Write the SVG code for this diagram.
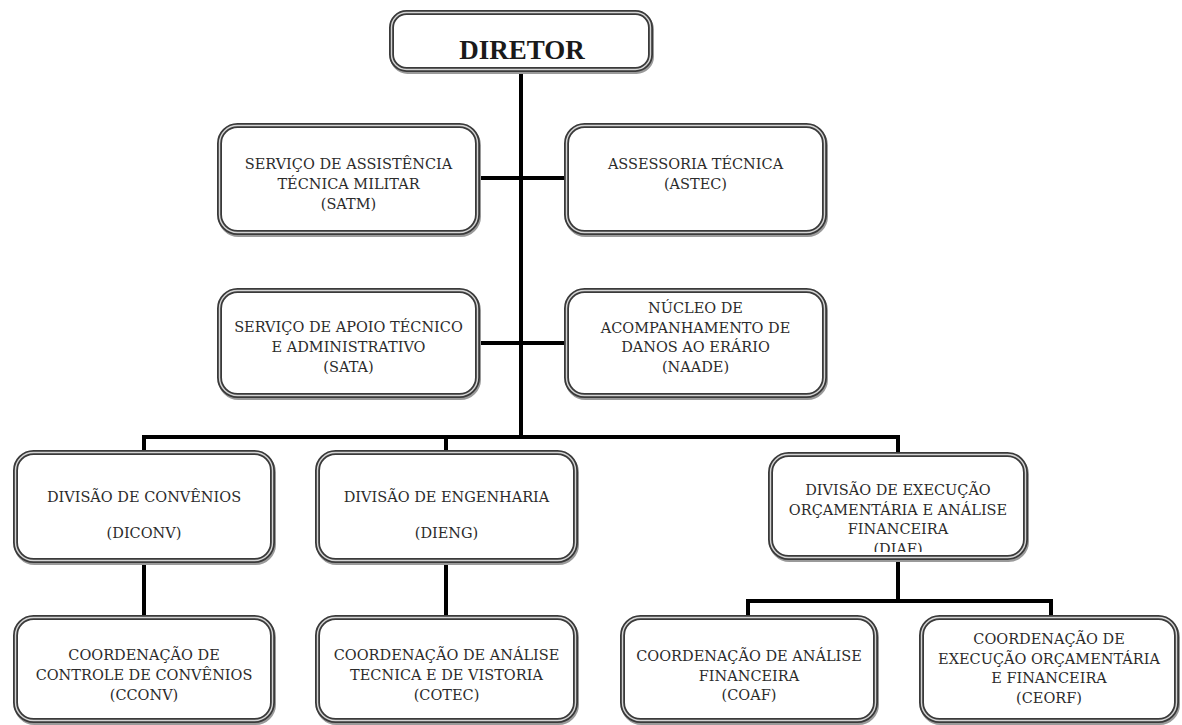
<svg xmlns="http://www.w3.org/2000/svg" width="1182" height="725" viewBox="0 0 1182 725">
<style>
.shadow{fill:none;stroke:#9a9a9a;stroke-width:5}
.box{fill:#fff;stroke:#3a3a3a;stroke-width:5}
.inner{fill:none;stroke:#d4d4d4;stroke-width:1.4}
.t{font-family:"DejaVu Serif","Liberation Serif",serif;font-size:14.5px;fill:#2b2b2b;text-anchor:middle}
.title{font-family:"Liberation Serif","Times New Roman",serif;font-size:27px;font-weight:bold;fill:#1a1a1a;text-anchor:middle}
.c{stroke:#000;stroke-width:4;fill:none;stroke-linecap:square}
</style>
<defs>
<clipPath id="diafclip"><rect x="770" y="454" width="256" height="98"/></clipPath>
</defs>
<rect width="1182" height="725" fill="#fff"/>
<g id="connectors">
<line class="c" x1="521" y1="74" x2="521" y2="437"/>
<line class="c" x1="482" y1="178" x2="562" y2="178"/>
<line class="c" x1="482" y1="343" x2="562" y2="343"/>
<line class="c" x1="144" y1="437" x2="898" y2="437"/>
<line class="c" x1="144" y1="437" x2="144" y2="450"/>
<line class="c" x1="446" y1="437" x2="446" y2="450"/>
<line class="c" x1="898" y1="437" x2="898" y2="452"/>
<line class="c" x1="144" y1="563" x2="144" y2="615"/>
<line class="c" x1="446" y1="563" x2="446" y2="615"/>
<line class="c" x1="898" y1="562" x2="898" y2="601"/>
<line class="c" x1="748" y1="601" x2="1051" y2="601"/>
<line class="c" x1="748" y1="601" x2="748" y2="615"/>
<line class="c" x1="1051" y1="601" x2="1051" y2="615"/>
</g>
<g id="diretor">
<rect class="shadow" x="392.5" y="14.5" width="259" height="57" rx="15"/>
<rect class="box" x="391.5" y="12.5" width="259" height="57" rx="15"/>
<rect class="inner" x="391.5" y="12.5" width="259" height="57" rx="15"/>
<text class="title" x="522" y="59">DIRETOR</text>
</g>
<g id="satm">
<rect class="shadow" x="220.5" y="127.5" width="258" height="107" rx="18"/>
<rect class="box" x="219.5" y="125.5" width="258" height="107" rx="18"/>
<rect class="inner" x="219.5" y="125.5" width="258" height="107" rx="18"/>
<text class="t" x="348.5" y="169">SERVIÇO DE ASSISTÊNCIA</text>
<text class="t" x="348.5" y="189">TÉCNICA MILITAR</text>
<text class="t" x="348.5" y="209">(SATM)</text>
</g>
<g id="astec">
<rect class="shadow" x="567.5" y="127.5" width="258" height="107" rx="18"/>
<rect class="box" x="566.5" y="125.5" width="258" height="107" rx="18"/>
<rect class="inner" x="566.5" y="125.5" width="258" height="107" rx="18"/>
<text class="t" x="695.5" y="169">ASSESSORIA TÉCNICA</text>
<text class="t" x="695.5" y="189">(ASTEC)</text>
</g>
<g id="sata">
<rect class="shadow" x="220.5" y="292.5" width="258" height="105" rx="18"/>
<rect class="box" x="219.5" y="290.5" width="258" height="105" rx="18"/>
<rect class="inner" x="219.5" y="290.5" width="258" height="105" rx="18"/>
<text class="t" x="348.5" y="332">SERVIÇO DE APOIO TÉCNICO</text>
<text class="t" x="348.5" y="352">E ADMINISTRATIVO</text>
<text class="t" x="348.5" y="372">(SATA)</text>
</g>
<g id="naade">
<rect class="shadow" x="567.5" y="292.5" width="258" height="105" rx="18"/>
<rect class="box" x="566.5" y="290.5" width="258" height="105" rx="18"/>
<rect class="inner" x="566.5" y="290.5" width="258" height="105" rx="18"/>
<text class="t" x="695.5" y="313">NÚCLEO DE</text>
<text class="t" x="695.5" y="332.5">ACOMPANHAMENTO DE</text>
<text class="t" x="695.5" y="352">DANOS AO ERÁRIO</text>
<text class="t" x="695.5" y="371.5">(NAADE)</text>
</g>
<g id="diconv">
<rect class="shadow" x="16.5" y="454.5" width="257" height="108" rx="18"/>
<rect class="box" x="15.5" y="452.5" width="257" height="108" rx="18"/>
<rect class="inner" x="15.5" y="452.5" width="257" height="108" rx="18"/>
<text class="t" x="144" y="502">DIVISÃO DE CONVÊNIOS</text>
<text class="t" x="144" y="538">(DICONV)</text>
</g>
<g id="dieng">
<rect class="shadow" x="318.5" y="454.5" width="258" height="108" rx="18"/>
<rect class="box" x="317.5" y="452.5" width="258" height="108" rx="18"/>
<rect class="inner" x="317.5" y="452.5" width="258" height="108" rx="18"/>
<text class="t" x="446.5" y="502">DIVISÃO DE ENGENHARIA</text>
<text class="t" x="446.5" y="538">(DIENG)</text>
</g>
<g id="diaf">
<rect class="shadow" x="771.5" y="456.5" width="255" height="103" rx="18"/>
<rect class="box" x="770.5" y="454.5" width="255" height="103" rx="18"/>
<rect class="inner" x="770.5" y="454.5" width="255" height="103" rx="18"/>
<g clip-path="url(#diafclip)">
<text class="t" x="898" y="495">DIVISÃO DE EXECUÇÃO</text>
<text class="t" x="898" y="514.5">ORÇAMENTÁRIA E ANÁLISE</text>
<text class="t" x="898" y="534">FINANCEIRA</text>
<text class="t" x="898" y="553.5">(DIAF)</text>
</g>
</g>
<g id="cconv">
<rect class="shadow" x="16.5" y="619.5" width="257" height="103" rx="18"/>
<rect class="box" x="15.5" y="617.5" width="257" height="103" rx="18"/>
<rect class="inner" x="15.5" y="617.5" width="257" height="103" rx="18"/>
<text class="t" x="144" y="660">COORDENAÇÃO DE</text>
<text class="t" x="144" y="680">CONTROLE DE CONVÊNIOS</text>
<text class="t" x="144" y="700">(CCONV)</text>
</g>
<g id="cotec">
<rect class="shadow" x="318.5" y="619.5" width="258" height="103" rx="18"/>
<rect class="box" x="317.5" y="617.5" width="258" height="103" rx="18"/>
<rect class="inner" x="317.5" y="617.5" width="258" height="103" rx="18"/>
<text class="t" x="446.5" y="660">COORDENAÇÃO DE ANÁLISE</text>
<text class="t" x="446.5" y="680">TECNICA E DE VISTORIA</text>
<text class="t" x="446.5" y="700">(COTEC)</text>
</g>
<g id="coaf">
<rect class="shadow" x="623.5" y="619.5" width="253" height="103" rx="18"/>
<rect class="box" x="622.5" y="617.5" width="253" height="103" rx="18"/>
<rect class="inner" x="622.5" y="617.5" width="253" height="103" rx="18"/>
<text class="t" x="749" y="661">COORDENAÇÃO DE ANÁLISE</text>
<text class="t" x="749" y="680.5">FINANCEIRA</text>
<text class="t" x="749" y="700">(COAF)</text>
</g>
<g id="ceorf">
<rect class="shadow" x="922.5" y="619.5" width="255" height="103" rx="18"/>
<rect class="box" x="921.5" y="617.5" width="255" height="103" rx="18"/>
<rect class="inner" x="921.5" y="617.5" width="255" height="103" rx="18"/>
<text class="t" x="1049" y="644">COORDENAÇÃO DE</text>
<text class="t" x="1049" y="663.5">EXECUÇÃO ORÇAMENTÁRIA</text>
<text class="t" x="1049" y="683">E FINANCEIRA</text>
<text class="t" x="1049" y="702.5">(CEORF)</text>
</g>
</svg>
